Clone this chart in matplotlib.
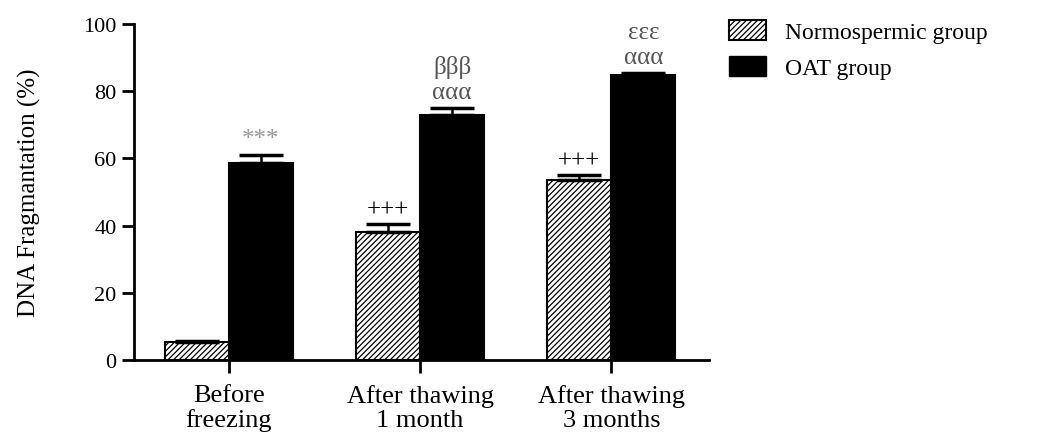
"""DNA fragmentation bar chart: normospermic vs OAT group"""

import numpy as np
from matplotlib import pyplot as plt
from matplotlib.patches import Patch

categories = ['Before\nfreezing', 'After thawing\n1 month', 'After thawing\n3 months']
normo_values = [5.3, 38.2, 53.6]
normo_errors = [0.5, 2.3, 1.5]
oat_values = [58.7, 73.0, 84.9]
oat_errors = [2.2, 2.0, 0.5]
normo_marks = ['', '+++', '+++']
oat_marks = [['***'], ['ααα', 'βββ'], ['ααα', 'εεε']]
y_ticks = [0, 20, 40, 60, 80, 100]

plt.rcParams['font.family'] = ['Liberation Serif', 'DejaVu Serif']
plt.rcParams['hatch.linewidth'] = 0.9

fig = plt.figure(figsize=(10.45, 4.35), dpi=100)
ax = fig.add_axes([0.128, 0.170, 0.550, 0.773])

x = np.arange(len(categories))
width = 0.335

ax.bar(x - width / 2, normo_values, width, color='white', edgecolor='black',
       hatch='//////', linewidth=1.5, zorder=2)
ax.bar(x + width / 2, oat_values, width, color='black', edgecolor='black',
       linewidth=1.5, zorder=2)
ax.errorbar(x - width / 2, normo_values, yerr=[np.zeros(3), normo_errors],
            fmt='none', ecolor='black', elinewidth=1.8, capsize=16, capthick=2.5, zorder=3)
ax.errorbar(x + width / 2, oat_values, yerr=[np.zeros(3), oat_errors],
            fmt='none', ecolor='black', elinewidth=1.8, capsize=16, capthick=2.5, zorder=3)

# significance marks
for i in range(len(categories)):
    if normo_marks[i]:
        ax.text(x[i] - width / 2, normo_values[i] + normo_errors[i] + 1.0, normo_marks[i],
                ha='center', va='bottom', fontsize=18)
    top = oat_values[i] + oat_errors[i] + 1.5
    for j, mark in enumerate(oat_marks[i]):
        color = '#999999' if mark == '***' else '#555555'
        ax.text(x[i] + width / 2, top + j * 7.5, mark, ha='center', va='bottom',
                fontsize=18, color=color)

ax.set_xlim(-0.497, 2.508)
ax.set_ylim(0, 100)
ax.set_yticks(y_ticks)
ax.set_xticks(x)
ax.set_xticklabels(categories, fontsize=19, linespacing=1.15)
ax.tick_params(axis='y', labelsize=16, width=2, length=9, direction='out')
ax.tick_params(axis='x', width=2, length=9, direction='out', pad=8)
ax.set_ylabel('DNA Fragmantation (%)', fontsize=18, labelpad=30)

for side in ['top', 'right']:
    ax.spines[side].set_visible(False)
for side in ['left', 'bottom']:
    ax.spines[side].set_linewidth(2)

handles = [
    Patch(facecolor='white', edgecolor='black', hatch='//////', linewidth=1.5, label='Normospermic group'),
    Patch(facecolor='black', edgecolor='black', label='OAT group'),
]
fig.legend(handles=handles, loc='upper left', bbox_to_anchor=(0.677, 1.0), frameon=False,
           fontsize=17, handlelength=1.6, handleheight=0.9, labelspacing=0.55,
           handletextpad=0.8)

fig.savefig('out.png', dpi=100)
